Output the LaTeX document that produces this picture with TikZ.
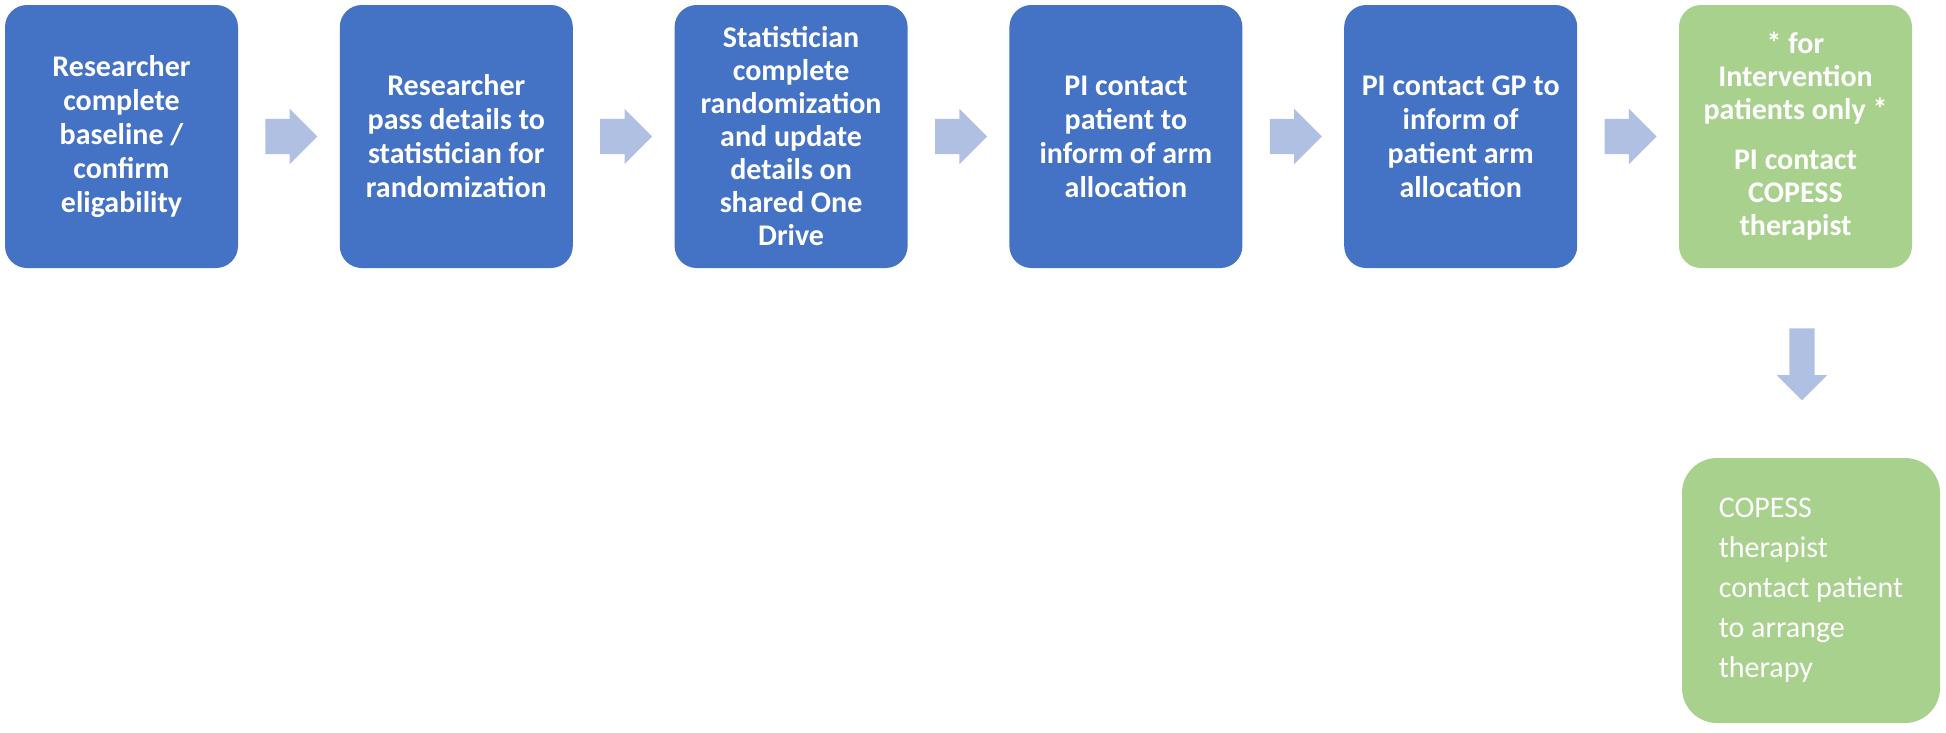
\documentclass[tikz,border=0pt]{standalone}
\usepackage{fontspec}
\newfontfamily\carl{Carlito}
\usetikzlibrary{shapes.arrows,calc}
\definecolor{boxblue}{HTML}{4472C4}
\definecolor{boxgreen}{HTML}{A9D18E}
\definecolor{arrowc}{HTML}{B0C0E3}
\tikzset{
  bluebox/.style={rectangle, rounded corners=22pt, fill=boxblue, draw=none,
    minimum width=233pt, minimum height=263pt, align=center, text=white,
    font=\carl\bfseries\fontsize{30}{34}\selectfont, inner sep=0pt},
  greenbox/.style={bluebox, fill=boxgreen},
  harrow/.style={single arrow, fill=arrowc, draw=none, minimum height=52pt,
    inner xsep=0pt, inner ysep=17.5pt, single arrow head extend=10pt,
    single arrow head indent=0pt, anchor=tail},
  varrow/.style={harrow, shape border rotate=270, minimum height=72pt,
    inner xsep=12.5pt, inner ysep=0pt, single arrow head extend=12.5pt}
}
\begin{document}
\begin{tikzpicture}[x=1pt,y=-1pt]
\useasboundingbox (0,0) rectangle (1946,732);
\node[bluebox] (b1) at (121.5,136.5) {Researcher\\complete\\baseline /\\confirm\\eligability};
\node[bluebox] (b2) at (456.3,136.5) {Researcher\\pass details to\\statistician for\\randomization};
\node[bluebox, font=\carl\bfseries\fontsize{30}{33}\selectfont] (b3) at (791.1,136.5) {Statistician\\complete\\randomization\\and update\\details on\\shared One\\Drive};
\node[bluebox] (b4) at (1125.9,136.5) {PI contact\\patient to\\inform of arm\\allocation};
\node[bluebox] (b5) at (1460.7,136.5) {PI contact GP to\\inform of\\patient arm\\allocation};
\node[greenbox, font=\carl\bfseries\fontsize{30}{33}\selectfont] (b6) at (1795.5,136.5) {* for\\Intervention\\patients only *\\[17pt]PI contact\\COPESS\\therapist};
\node[greenbox, rounded corners=35pt, minimum width=258pt, minimum height=265pt,
  align=left, font=\carl\fontsize{30}{40}\selectfont] (b7) at (1811,590.5)
  {COPESS\\therapist\\contact patient\\to arrange\\therapy};
\node[harrow] (a12) at ($(b1.east)+(27,0)$) {};
\node[harrow] (a23) at ($(b2.east)+(27,0)$) {};
\node[harrow] (a34) at ($(b3.east)+(27,0)$) {};
\node[harrow] (a45) at ($(b4.east)+(27,0)$) {};
\node[harrow] (a56) at ($(b5.east)+(27,0)$) {};
\node[varrow] (a67) at ($(b6.south)+(6.5,60)$) {};
\end{tikzpicture}
\end{document}
